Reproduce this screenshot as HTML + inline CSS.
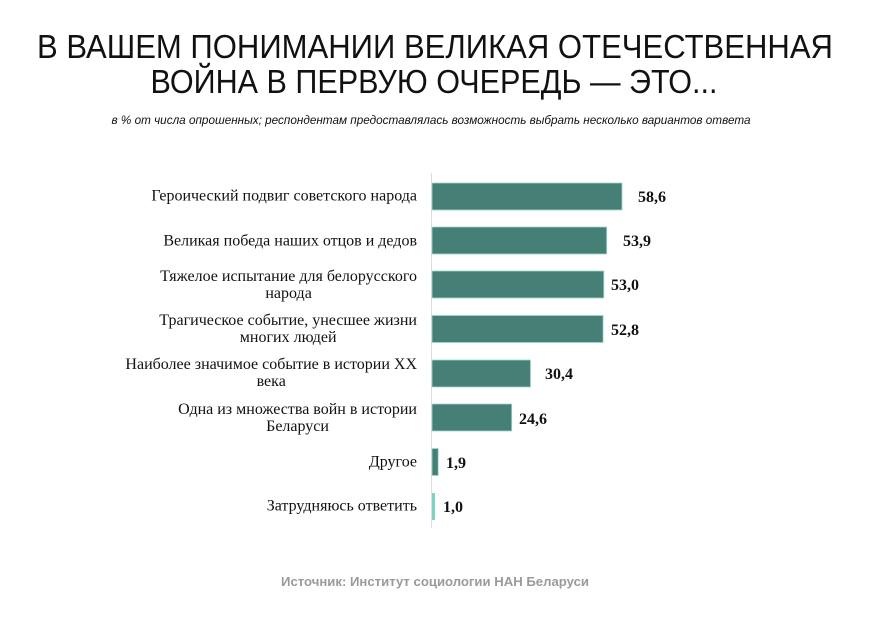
<!DOCTYPE html>
<html><head><meta charset="utf-8"><style>
body{margin:0;background:#fff;width:870px;height:639px;overflow:hidden;position:relative}
.lab{position:absolute;right:453px;font-family:"Liberation Serif",serif;font-size:16px;line-height:17px;color:#111;text-align:center;transform:translateY(-50%);white-space:nowrap}
</style></head><body>
<svg width="870" height="639" style="position:absolute;left:0;top:0">
<g font-family="Liberation Sans, sans-serif" fill="#111">
<text x="435" y="58" font-size="33" text-anchor="middle" textLength="796" lengthAdjust="spacingAndGlyphs">В ВАШЕМ ПОНИМАНИИ ВЕЛИКАЯ ОТЕЧЕСТВЕННАЯ</text>
<text x="434" y="93" font-size="33" text-anchor="middle" textLength="567" lengthAdjust="spacingAndGlyphs">ВОЙНА В ПЕРВУЮ ОЧЕРЕДЬ — ЭТО...</text>
<text x="431" y="124" font-size="11.5" font-style="italic" text-anchor="middle" textLength="639" lengthAdjust="spacingAndGlyphs">в % от числа опрошенных; респондентам предоставлялась возможность выбрать несколько вариантов ответа</text>
<text x="435" y="586" font-size="13" font-weight="bold" fill="#9a9a9a" text-anchor="middle" textLength="308" lengthAdjust="spacingAndGlyphs">Источник: Институт социологии НАН Беларуси</text>
</g>
<line x1="431.5" y1="173" x2="431.5" y2="528" stroke="#ddd" stroke-width="1"/>
<g fill="#457f75" stroke="#9fd8cc" stroke-width="0.8">
<rect x="432" y="183" width="190" height="27"/>
<rect x="432" y="227" width="174.7" height="27"/>
<rect x="432" y="271" width="171.8" height="27"/>
<rect x="432" y="315.5" width="171.1" height="27"/>
<rect x="432" y="360" width="98.5" height="27"/>
<rect x="432" y="404" width="79.7" height="27"/>
<rect x="432" y="448.5" width="6.2" height="27"/>
</g>
<rect x="432" y="493" width="3" height="27" fill="#7fd2c2"/>
<g font-family="Liberation Serif, serif" font-weight="bold" font-size="16" fill="#111">
<text x="638" y="202">58,6</text>
<text x="623" y="246">53,9</text>
<text x="611" y="290">53,0</text>
<text x="611" y="335">52,8</text>
<text x="545" y="379">30,4</text>
<text x="519" y="424">24,6</text>
<text x="446" y="468">1,9</text>
<text x="443" y="512">1,0</text>
</g>
</svg>
<div class="lab" style="top:196px">Героический подвиг советского народа</div>
<div class="lab" style="top:240.5px">Великая победа наших отцов и дедов</div>
<div class="lab" style="top:284.5px">Тяжелое испытание для белорусского<br>народа</div>
<div class="lab" style="top:329px">Трагическое событие, унесшее жизни<br>многих людей</div>
<div class="lab" style="top:373px">Наиболее значимое событие в истории XX<br>века</div>
<div class="lab" style="top:417.5px">Одна из множества войн в истории<br>Беларуси</div>
<div class="lab" style="top:462px">Другое</div>
<div class="lab" style="top:506px">Затрудняюсь ответить</div>
</body></html>
